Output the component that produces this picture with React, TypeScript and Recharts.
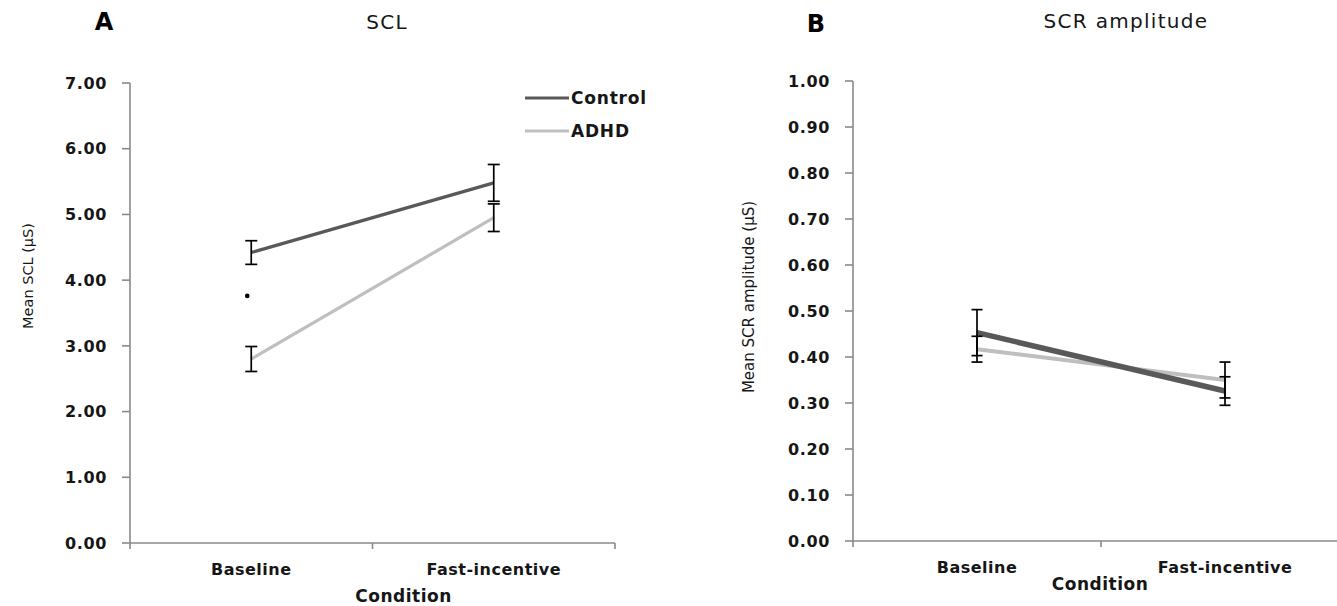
import React from 'react';
import { LineChart, Line, XAxis, YAxis, ErrorBar, Legend, ReferenceDot } from 'recharts';

// Conditions (x categories)
const conditions = ['Baseline', 'Fast-incentive'];

// Group names, in legend order
const groups = ['Control', 'ADHD'];

// Panel A: skin conductance level (µS), group means and standard errors
const sclControl = [4.42, 5.48];
const sclControlSe = [0.18, 0.28];
const sclAdhd = [2.8, 4.95];
const sclAdhdSe = [0.19, 0.21];
// group-difference marker drawn next to the baseline means
const sclMarker = 3.76;

// Panel B: skin conductance response amplitude (µS)
const scrControl = [0.453, 0.326];
const scrControlSe = [0.05, 0.031];
const scrAdhd = [0.417, 0.35];
const scrAdhdSe = [0.028, 0.039];

// Axis ticks
const sclTicks = [0, 1, 2, 3, 4, 5, 6, 7];
const scrTicks = [0, 0.1, 0.2, 0.3, 0.4, 0.5, 0.6, 0.7, 0.8, 0.9, 1.0];
const xTicks = [0, 0.5, 1, 1.5, 2];

const FONT = '"DejaVu Sans", sans-serif';
const AXIS = '#8a8a8a';
const INK = '#161616';
const DARK = '#595959';
const LIGHT = '#bfbfbf';

const sclData = conditions.map((c, i) => ({
  pos: i + 0.5,
  condition: c,
  control: sclControl[i],
  controlSe: sclControlSe[i],
  adhd: sclAdhd[i],
  adhdSe: sclAdhdSe[i],
}));

const scrData = conditions.map((c, i) => ({
  pos: i + 0.5,
  condition: c,
  control: scrControl[i],
  controlSe: scrControlSe[i],
  adhd: scrAdhd[i],
  adhdSe: scrAdhdSe[i],
}));

// x axis: category boundaries get a tick mark, category centres get the name
const XTick = (props: any) => {
  const { x, y, payload } = props;
  const v = payload.value;
  if (Number.isInteger(v)) {
    return <line x1={x} x2={x} y1={y} y2={y + 6} stroke={AXIS} strokeWidth={1.6} />;
  }
  return (
    <text
      x={x}
      y={y + 32}
      textAnchor="middle"
      fontFamily={FONT}
      fontWeight="bold"
      fontSize={16}
      letterSpacing={0.5}
      fill={INK}
    >
      {conditions[Math.floor(v)]}
    </text>
  );
};

const YTick = (props: any) => {
  const { x, y, payload } = props;
  return (
    <text
      x={x}
      y={y}
      dy="0.36em"
      textAnchor="end"
      fontFamily={FONT}
      fontWeight="bold"
      fontSize={16}
      letterSpacing={0.6}
      fill={INK}
    >
      {Number(payload.value).toFixed(2)}
    </text>
  );
};

const conditionLabel = (dx: number, dy: number) => (props: any) => {
  const vb = props.viewBox || {};
  return (
    <text
      x={vb.x + vb.width / 2 + dx}
      y={vb.y + dy}
      textAnchor="middle"
      fontFamily={FONT}
      fontWeight="bold"
      fontSize={17}
      letterSpacing={0.5}
      fill={INK}
    >
      Condition
    </text>
  );
};

const renderLegend = (props: any) => {
  const items = (props.payload || [])
    .filter((p: any) => p.type !== 'none' && groups.includes(p.value))
    .sort((a: any, b: any) => groups.indexOf(a.value) - groups.indexOf(b.value));
  return (
    <svg width={140} height={56} style={{ overflow: 'visible', display: 'block' }}>
      {items.map((p: any, i: number) => (
        <g key={p.value}>
          <line x1={0} x2={44} y1={10 + i * 33} y2={10 + i * 33} stroke={p.color} strokeWidth={3} />
          <text
            x={46}
            y={10 + i * 33}
            dy="0.36em"
            fontFamily={FONT}
            fontWeight="bold"
            fontSize={17}
            letterSpacing={0.8}
            fill={INK}
          >
            {p.value}
          </text>
        </g>
      ))}
    </svg>
  );
};

const markerShape = (props: any) => <circle cx={props.cx - 4} cy={props.cy} r={2.3} fill="#000" />;

const errorProps = { width: 6, strokeWidth: 1.7, stroke: '#000', direction: 'y' as const };

const textStyle = { fontFamily: FONT, fill: INK };

export default function App() {
  return (
    <div
      style={{
        position: 'absolute',
        left: 0,
        top: 0,
        width: 1337,
        height: 606,
        overflow: 'hidden',
        background: '#fff',
      }}
    >
      {/* Panel A: SCL */}
      <div style={{ position: 'absolute', left: 0, top: 0 }}>
        <LineChart width={668} height={606} data={sclData} margin={{ top: 83, right: 53, bottom: 0, left: 0 }}>
          <XAxis
            dataKey="pos"
            type="number"
            domain={[0, 2]}
            ticks={xTicks}
            interval={0}
            tick={<XTick />}
            tickLine={false}
            tickSize={0}
            tickMargin={0}
            height={63}
            axisLine={{ stroke: AXIS, strokeWidth: 1.6 }}
            label={conditionLabel(31, 59)}
          />
          <YAxis
            type="number"
            domain={[0, 7]}
            ticks={sclTicks}
            interval={0}
            width={130}
            tick={<YTick />}
            tickSize={8}
            tickMargin={15}
            tickLine={{ stroke: AXIS, strokeWidth: 1.6 }}
            axisLine={{ stroke: AXIS, strokeWidth: 1.6 }}
          />
          <Legend
            layout="vertical"
            align="center"
            verticalAlign="middle"
            content={renderLegend}
            wrapperStyle={{ left: 525, top: 88, width: 140 }}
          />
          <Line
            name="Control"
            dataKey="control"
            stroke={DARK}
            strokeWidth={3.2}
            dot={false}
            activeDot={false}
            isAnimationActive={false}
          />
          <Line
            name="ADHD"
            dataKey="adhd"
            stroke={LIGHT}
            strokeWidth={3.2}
            dot={false}
            activeDot={false}
            isAnimationActive={false}
          />
          <Line
            dataKey="control"
            stroke="none"
            legendType="none"
            dot={false}
            activeDot={false}
            isAnimationActive={false}
          >
            <ErrorBar dataKey="controlSe" {...errorProps} isAnimationActive={false} />
          </Line>
          <Line
            dataKey="adhd"
            stroke="none"
            legendType="none"
            dot={false}
            activeDot={false}
            isAnimationActive={false}
          >
            <ErrorBar dataKey="adhdSe" {...errorProps} isAnimationActive={false} />
          </Line>
          <ReferenceDot x={0.5} y={sclMarker} r={2.3} shape={markerShape} />
        </LineChart>
      </div>

      {/* Panel B: SCR amplitude */}
      <div style={{ position: 'absolute', left: 680, top: 0 }}>
        <LineChart width={680} height={606} data={scrData} margin={{ top: 81, right: 11, bottom: 0, left: 0 }}>
          <XAxis
            dataKey="pos"
            type="number"
            domain={[0, 2]}
            ticks={xTicks}
            interval={0}
            tick={<XTick />}
            tickLine={false}
            tickSize={0}
            tickMargin={0}
            height={65}
            axisLine={{ stroke: AXIS, strokeWidth: 1.6 }}
            label={conditionLabel(-1, 49)}
          />
          <YAxis
            type="number"
            domain={[0, 1]}
            ticks={scrTicks}
            interval={0}
            width={173}
            tick={<YTick />}
            tickSize={8}
            tickMargin={15}
            tickLine={{ stroke: AXIS, strokeWidth: 1.6 }}
            axisLine={{ stroke: AXIS, strokeWidth: 1.6 }}
          />
          <Line
            name="ADHD"
            dataKey="adhd"
            stroke={LIGHT}
            strokeWidth={4}
            dot={false}
            activeDot={false}
            isAnimationActive={false}
          />
          <Line
            name="Control"
            dataKey="control"
            stroke={DARK}
            strokeWidth={5.5}
            dot={false}
            activeDot={false}
            isAnimationActive={false}
          />
          <Line
            dataKey="control"
            stroke="none"
            legendType="none"
            dot={false}
            activeDot={false}
            isAnimationActive={false}
          >
            <ErrorBar dataKey="controlSe" {...errorProps} width={5.5} isAnimationActive={false} />
          </Line>
          <Line
            dataKey="adhd"
            stroke="none"
            legendType="none"
            dot={false}
            activeDot={false}
            isAnimationActive={false}
          >
            <ErrorBar dataKey="adhdSe" {...errorProps} width={5.5} isAnimationActive={false} />
          </Line>
        </LineChart>
      </div>

      {/* Panel letters, titles and y-axis titles */}
      <svg
        width={1337}
        height={606}
        style={{ position: 'absolute', left: 0, top: 0, pointerEvents: 'none' }}
      >
        <text x={104} y={30} textAnchor="middle" fontSize={24} fontWeight="bold" {...textStyle} fill="#000">
          A
        </text>
        <text x={387} y={29} textAnchor="middle" fontSize={20} letterSpacing={1.3} {...textStyle}>
          SCL
        </text>
        <text x={816} y={32} textAnchor="middle" fontSize={24} fontWeight="bold" {...textStyle} fill="#000">
          B
        </text>
        <text x={1126} y={28} textAnchor="middle" fontSize={20} letterSpacing={1.3} {...textStyle}>
          SCR amplitude
        </text>
        <text
          x={28}
          y={276}
          textAnchor="middle"
          dominantBaseline="central"
          fontSize={14.5}
          transform="rotate(-90 28 276)"
          {...textStyle}
        >
          Mean SCL (µS)
        </text>
        <text
          x={749}
          y={297}
          textAnchor="middle"
          dominantBaseline="central"
          fontSize={15}
          transform="rotate(-90 749 297)"
          {...textStyle}
        >
          Mean SCR amplitude (µS)
        </text>
      </svg>
    </div>
  );
}
